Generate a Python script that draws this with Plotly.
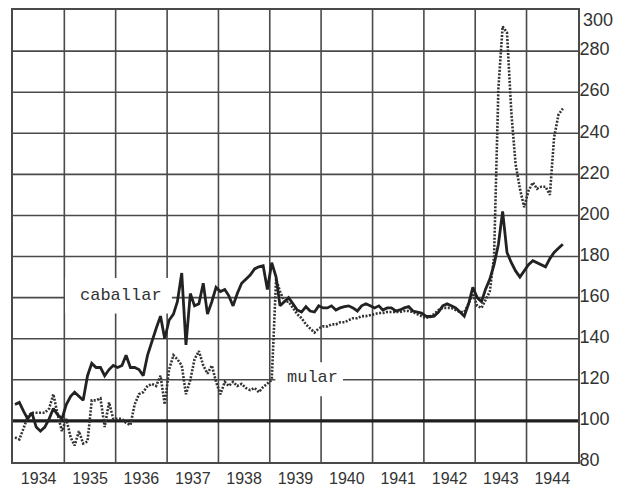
import plotly.graph_objects as go

# Monthly index values, Jan 1934 .. Sep 1944
start_year = 1934
caballar = [
    108, 109, 105, 101, 104, 97, 95, 97, 101, 106, 103, 101,
    108, 112, 114, 112, 110, 122, 128, 126, 126, 122, 125, 127,
    126, 127, 132, 126, 126, 125, 122, 132, 139, 145, 151, 140,
    149, 152, 158, 172, 137, 162, 156, 157, 167, 152, 158, 165,
    163, 164, 161, 156, 162, 167, 169, 171, 174, 175, 175.5, 164,
    177, 170, 156, 158, 160, 157, 154, 153, 155.6, 153.5, 153, 156,
    155, 155, 156, 154, 155, 155.6, 156, 155, 153.5, 156, 157, 156,
    155, 156, 154, 155, 155, 153.5, 154, 155, 155.6, 153.5, 153, 152.5,
    151, 150.7, 151, 153, 156, 157, 156, 155, 153, 151, 157, 165,
    160, 158, 164, 169, 176, 186, 202, 182, 177, 173, 170, 173,
    176, 178, 177, 176, 175, 179, 182, 184, 186,
]
mular = [
    92, 91, 96, 102, 104, 104, 104, 104, 106, 113, 103, 95,
    101, 92, 88, 95, 89, 90, 110, 110, 111, 97, 109, 101,
    101, 101, 99, 98, 108, 113, 114, 117, 118, 117, 122, 108,
    125, 132, 130, 127, 113, 120, 130, 134, 127, 123, 127, 119,
    113, 119, 117, 119, 117, 118, 116, 115, 116, 114, 116.5, 118,
    120, 169, 163, 158, 158, 155, 152, 150, 147, 145, 143, 145,
    146, 146, 147, 147, 148, 148, 149, 150, 150, 151, 151, 151.5,
    152, 152.5, 152.5, 153, 153, 153, 153, 153.5, 153.5, 153, 152, 151,
    150, 151, 152, 154, 155, 155, 155, 154, 153, 153, 157, 162,
    156, 155, 159, 163, 180, 262, 292, 289, 250, 225, 213, 204,
    212, 216, 213, 214, 214, 210, 238, 249, 252,
]
months = [f"{start_year + m // 12}-{m % 12 + 1:02d}-15" for m in range(len(caballar))]

years = list(range(1934, 1945))
y_ticks = [80, 100, 120, 140, 160, 180, 200, 220, 240, 260, 280]
y_top = 300
base_value = 100
label_caballar = "caballar"
label_mular = "mular"

GRID = "#4a4a4a"
INK = "#222222"
TXT = "#333333"

fig = go.Figure()
fig.add_trace(go.Scatter(x=months, y=mular, mode="lines",
                         line=dict(color="#333333", width=2.6, dash="2px,1.5px"),
                         showlegend=False, hoverinfo="skip"))
fig.add_trace(go.Scatter(x=months, y=caballar, mode="lines",
                         line=dict(color=INK, width=2.8),
                         showlegend=False, hoverinfo="skip"))

# grid drawn as shapes below the curves
for yr in years[1:]:
    fig.add_shape(type="line", xref="x", x0=f"{yr}-01-01", x1=f"{yr}-01-01",
                  yref="y domain", y0=0, y1=1, line=dict(color=GRID, width=1.6), layer="below")
for v in y_ticks[1:]:
    fig.add_shape(type="line", xref="x domain", x0=0, x1=1, yref="y", y0=v, y1=v,
                  line=dict(color=GRID, width=1.6), layer="below")
# white boxes behind labels (break the grid, stay under the curves)
fig.add_shape(type="rect", xref="x", x0="1935-01-06", x1="1937-02-04", yref="y", y0=152.3, y1=169.5,
              fillcolor="white", line=dict(width=0), layer="below")
fig.add_shape(type="rect", xref="x", x0="1939-02-10", x1="1940-06-05", yref="y", y0=112, y1=128.5,
              fillcolor="white", line=dict(width=0), layer="below")
# thick base line at 100
fig.add_shape(type="line", xref="x domain", x0=0, x1=1, yref="y", y0=base_value, y1=base_value,
              line=dict(color="#1e1e1e", width=3.2), layer="below")

fig.add_annotation(text=label_caballar, xref="x", x="1936-02-06", xanchor="center",
                   yref="y", y=161, showarrow=False,
                   font=dict(family="Liberation Mono", size=17, color=TXT))
fig.add_annotation(text=label_mular, xref="x", x="1939-11-01", xanchor="center",
                   yref="y", y=121, showarrow=False,
                   font=dict(family="Liberation Mono", size=17, color=TXT))
# top value label sits just under the frame line
fig.add_annotation(text=str(y_top), xref="x domain", x=1, xanchor="left", xshift=3,
                   yref="y", y=y_top, yshift=-10, showarrow=False,
                   font=dict(family="Liberation Sans", size=18, color=TXT))

fig.update_layout(
    width=619, height=481,
    margin=dict(l=5, r=49, t=2, b=27, pad=0, autoexpand=False),
    paper_bgcolor="white", plot_bgcolor="white",
    showlegend=False,
    xaxis=dict(type="date", range=["1934-01-01", "1945-01-01"], dtick="M12",
               tick0="1934-01-01", tickformat="%Y", ticklabelmode="period",
               showgrid=False,
               showline=True, mirror=True, linecolor=GRID, linewidth=1.6,
               ticks="", zeroline=False, ticklabelstandoff=1, automargin=False,
               tickfont=dict(family="Liberation Sans", size=16, color=TXT)),
    yaxis=dict(range=[80, 300], tickvals=y_ticks, side="right",
               showgrid=False,
               showline=True, mirror=True, linecolor=GRID, linewidth=1.6,
               ticks="", zeroline=False, automargin=False,
               ticklabelstandoff=-4, ticklabelshift=-2,
               tickfont=dict(family="Liberation Sans", size=18, color=TXT)),
)

fig.write_html("out.html")
